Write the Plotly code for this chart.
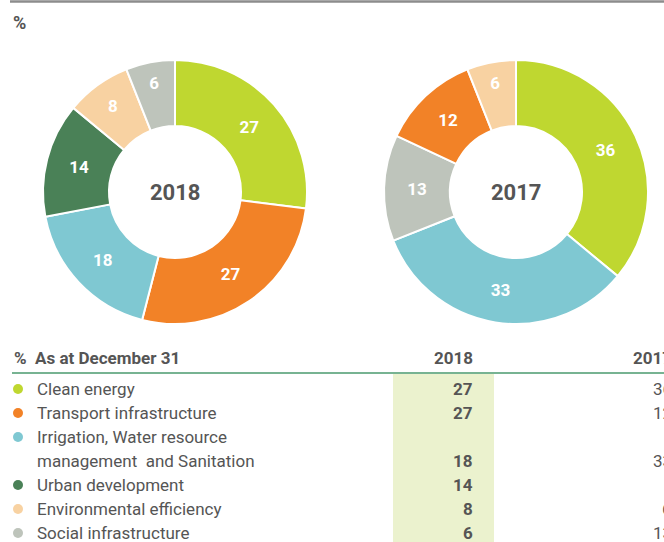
import plotly.graph_objects as go

W, H = 664, 542

# Portfolio allocation by sector (%)
categories = [
    "Clean energy",
    "Transport infrastructure",
    "Irrigation, Water resource",
    "Urban development",
    "Environmental efficiency",
    "Social infrastructure",
]
category_second_line = ["", "", "management  and Sanitation", "", "", ""]
values_2018 = [27, 27, 18, 14, 8, 6]
values_2017 = [36, 12, 33, None, 6, 13]
table_2017 = ["36", "12", "33", "-", "6", "13"]
colors = ["#BFD730", "#F28227", "#7FC8D2", "#4A8157", "#F8D2A2", "#BEC4BB"]

# slice order (clockwise from 12 o'clock) for each donut
order_2018 = [0, 1, 2, 3, 4, 5]
order_2017 = [0, 2, 5, 1, 4]

TEXT = "#555555"
FONT = "Roboto"


def px(x):
    return x / W


def py(y):
    return 1 - y / H


def donut(values, order, cx, cy, r):
    vals = [values[i] for i in order]
    return go.Pie(
        labels=[categories[i] for i in order],
        values=vals,
        text=[str(v) for v in vals],
        textinfo="text",
        textposition="inside",
        insidetextorientation="horizontal",
        textfont=dict(family=FONT, size=17, color="white", weight="bold"),
        marker=dict(colors=[colors[i] for i in order], line=dict(color="white", width=2)),
        hole=0.5,
        sort=False,
        direction="clockwise",
        rotation=0,
        showlegend=False,
        hoverinfo="label+value",
        domain=dict(x=[px(cx - r), px(cx + r)], y=[py(cy + r), py(cy - r)]),
    )


fig = go.Figure()
fig.add_trace(donut(values_2018, order_2018, 175, 192, 132))
fig.add_trace(donut(values_2017, order_2017, 516, 192, 132))

shapes = []
annotations = []

# top rule and unit label
shapes.append(dict(type="line", xref="paper", yref="paper", x0=px(10), x1=1, y0=py(1.5), y1=py(1.5),
                   line=dict(color="#8C8C8C", width=2.5)))
annotations.append(dict(x=px(11), y=py(22), xref="paper", yref="paper", text="%", showarrow=False,
                        xanchor="left", yanchor="middle",
                        font=dict(family=FONT, size=18, color=TEXT, weight="bold")))

# centre labels
for cx, yr in [(175, "2018"), (516, "2017")]:
    annotations.append(dict(x=px(cx), y=py(193), xref="paper", yref="paper", text=yr, showarrow=False,
                            xanchor="center", yanchor="middle",
                            font=dict(family=FONT, size=22, color=TEXT, weight="bold")))

# table: highlighted 2018 column and header rule
shapes.append(dict(type="rect", xref="paper", yref="paper", x0=px(393), x1=px(494), y0=0, y1=py(374),
                   fillcolor="#EBF2CE", line=dict(width=0), layer="below"))
shapes.append(dict(type="line", xref="paper", yref="paper", x0=px(12), x1=1, y0=py(373), y1=py(373),
                   line=dict(color="#4A9A6E", width=1.5)))

hdr_font = dict(family=FONT, size=17, color=TEXT, weight="bold")
annotations.append(dict(x=px(12), y=py(358), xref="paper", yref="paper", text="%  As at December 31",
                        showarrow=False, xanchor="left", yanchor="middle", font=hdr_font))
annotations.append(dict(x=px(475), y=py(358), xref="paper", yref="paper", text="2018",
                        showarrow=False, xanchor="right", yanchor="middle", font=hdr_font))
annotations.append(dict(x=px(674), y=py(358), xref="paper", yref="paper", text="2017",
                        showarrow=False, xanchor="right", yanchor="middle", font=hdr_font))

row_font = dict(family=FONT, size=17, color=TEXT)
val_font = dict(family=FONT, size=17, color=TEXT, weight="bold")
y = 389
for i, name in enumerate(categories):
    shapes.append(dict(type="circle", xref="paper", yref="paper",
                       x0=px(13), x1=px(23), y0=py(y + 5), y1=py(y - 5),
                       fillcolor=colors[i], line=dict(width=0)))
    annotations.append(dict(x=px(35), y=py(y), xref="paper", yref="paper",
                            text=name, showarrow=False, xanchor="left", yanchor="middle",
                            font=row_font))
    if category_second_line[i]:
        y += 24
        annotations.append(dict(x=px(35), y=py(y), xref="paper", yref="paper",
                                text=category_second_line[i], showarrow=False, xanchor="left",
                                yanchor="middle", font=row_font))
    annotations.append(dict(x=px(475), y=py(y), xref="paper", yref="paper",
                            text=str(values_2018[i]), showarrow=False, xanchor="right", yanchor="middle",
                            font=val_font))
    annotations.append(dict(x=px(674), y=py(y), xref="paper", yref="paper",
                            text=table_2017[i], showarrow=False, xanchor="right", yanchor="middle",
                            font=row_font))
    y += 24

fig.update_layout(
    width=W, height=H,
    margin=dict(l=0, r=0, t=0, b=0),
    paper_bgcolor="white", plot_bgcolor="white",
    shapes=shapes, annotations=annotations,
    font=dict(family=FONT, color=TEXT),
)

fig.write_html("out.html")
